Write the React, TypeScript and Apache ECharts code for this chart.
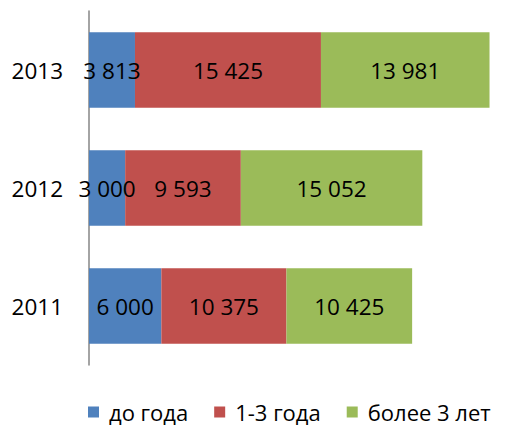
import React, { useEffect, useRef } from "react";
import * as echarts from "echarts";

const categories = ["2011", "2012", "2013"];
const seriesNames = ["до года", "1-3 года", "более 3 лет"];
const underYear = [6000, 3000, 3813];
const oneToThree = [10375, 9593, 15425];
const overThree = [10425, 15052, 13981];
const colors = ["#4F81BD", "#C0504D", "#9BBB59"];

const FONT = "Open Sans";
const FS = 22.5;

function fmt(v: number): string {
  return String(v).replace(/\B(?=(\d{3})+(?!\d))/g, " ");
}

export default function App() {
  const ref = useRef<HTMLDivElement>(null);
  useEffect(() => {
    if (!ref.current) return;
    const chart = echarts.init(ref.current, undefined, { renderer: "svg" });
    const datasets = [underYear, oneToThree, overThree];
    chart.setOption({
      animation: false,
      textStyle: { fontFamily: FONT },
      grid: { left: 89, right: 8, top: 11, bottom: 63 },
      legend: {
        left: 88,
        top: 401,
        padding: 0,
        itemWidth: 11,
        itemHeight: 11,
        itemGap: 26,
        icon: "rect",
        textStyle: {
          fontFamily: FONT,
          fontSize: 22,
          lineHeight: 22,
          color: "#000",
          padding: [0, 0, 0, 5],
        },
        data: seriesNames,
      },
      xAxis: {
        type: "value",
        min: 0,
        max: 35000,
        show: false,
      },
      yAxis: {
        type: "category",
        data: categories,
        axisLine: { show: true, lineStyle: { color: "#868686", width: 1.5 } },
        axisTick: { show: false },
        axisLabel: { fontFamily: FONT, fontSize: FS, color: "#000", margin: 26 },
      },
      series: seriesNames.map((name, i) => ({
        name,
        type: "bar",
        stack: "total",
        barCategoryGap: "36%",
        data: datasets[i],
        itemStyle: { color: colors[i] },
        label: {
          show: true,
          position: "inside",
          fontFamily: FONT,
          fontSize: FS,
          color: "#000",
          formatter: (p: any) => fmt(p.value),
        },
      })),
    });
    return () => chart.dispose();
  }, []);
  return (
    <div
      ref={ref}
      style={{ position: "fixed", left: 0, top: 0, width: 519, height: 428, background: "#fff" }}
    />
  );
}
